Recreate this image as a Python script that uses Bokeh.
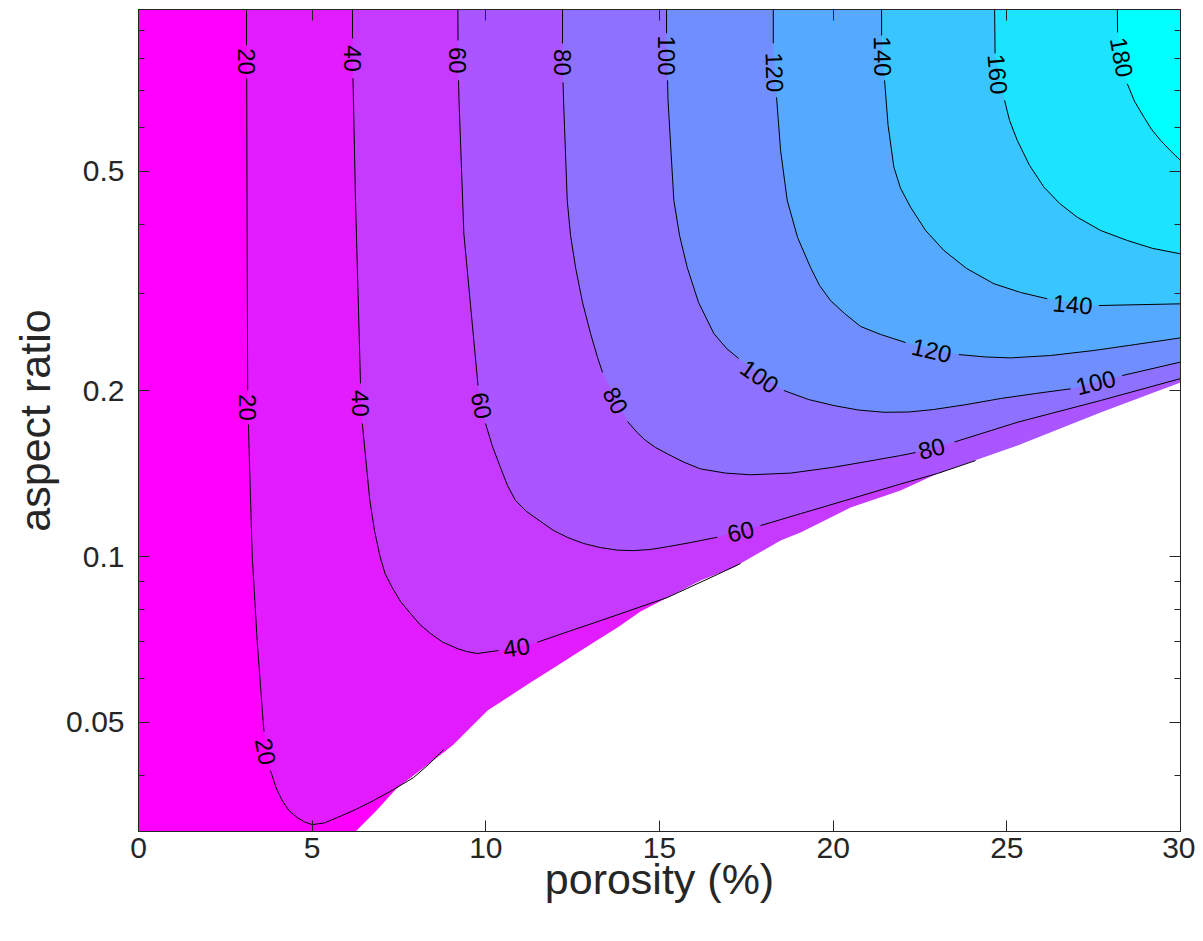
import numpy as np
from bokeh.plotting import figure
from bokeh.models import FixedTicker, CustomJSTickFormatter, LinearAxis, LogAxis
from bokeh.core.properties import value
from bokeh.embed import file_html
from bokeh.resources import INLINE

nan = float("nan")

# ---------------- data ----------------
levels = [20, 40, 60, 80, 100, 120, 140, 160, 180]
band_colors = ["#FF00FF", "#E31CFF", "#C639FF", "#AA55FF", "#8E71FF",
               "#718EFF", "#55AAFF", "#39C6FF", "#1CE3FF", "#00FFFF"]

# contour lines (porosity %, aspect ratio); NaN = gap for the inline label
c20_x = [3.110, 3.110, nan, 3.116, 3.124, 3.144, nan, 3.167, 3.176, 3.274, 3.418, 3.591, 3.614, nan,
         3.801, 3.959, 4.138, 4.333, 4.570, 4.780, 5.001, 5.356, 5.721, 6.248, 6.767, 7.342, 7.918,
         8.350, 8.782]
c20_y = [1.0, 0.8460, nan, 0.7374, 0.4427, 0.2001, nan, 0.1736, 0.1624, 0.1004, 0.07010, 0.04995,
         0.04811, nan, 0.04089, 0.03809, 0.03608, 0.03459, 0.03360, 0.03298, 0.03263, 0.03286,
         0.03360, 0.03474, 0.03608, 0.03777, 0.03971, 0.04193, 0.04464]

c40_x = [6.162, 6.162, nan, 6.176, 6.248, 6.392, nan, 6.444, 6.660, 6.795, 6.948, 7.098, 7.305,
         7.544, 7.832, 8.105, 8.408, 8.753, 9.177, 9.444, 9.752, 10.366, nan, 11.480, 12.381,
         13.303, 15.223, 16.663, 17.334]
c40_y = [1.0, 0.8711, nan, 0.7374, 0.4427, 0.2061, nan, 0.1743, 0.1264, 0.1115, 0.1004, 0.09315,
         0.08784, 0.08287, 0.07879, 0.07526, 0.07249, 0.06995, 0.06809, 0.06725, 0.06668, 0.06752,
         nan, 0.06989, 0.07312, 0.07650, 0.08424, 0.09275, 0.09712]

c60_x = [9.194, 9.200, nan, 9.214, 9.228, 9.367, 9.775, nan, 9.991, 10.193, 10.423, 10.625, 10.855,
         11.172, 11.575, 11.949, 12.352, 12.813, 13.303, 13.792, 14.253, 14.742, 15.232, 15.894,
         16.663, nan, 17.910, 19.061, 20.501, 21.941, 22.997, 24.100]
c60_y = [1.0, 0.8639, nan, 0.7312, 0.6725, 0.3857, 0.2043, nan, 0.1743, 0.1583, 0.1450, 0.1345,
         0.1264, 0.1207, 0.1158, 0.1115, 0.1083, 0.1056, 0.1038, 0.1027, 0.1025, 0.1030, 0.1042,
         0.1060, 0.1084, nan, 0.1138, 0.1196, 0.1272, 0.1354, 0.1414, 0.1493]

c80_x = [12.208, 12.208, nan, 12.223, 12.237, 12.344, 12.439, 12.583, 12.784, 13.015, 13.216,
         13.360, nan, 14.080, 14.339, 14.598, 14.886, 15.223, 15.692, 16.182, 16.902, 17.622,
         18.773, 20.012, 20.962, 21.941, 22.373, nan, 23.496, 25.301, 27.699, 30.0]
c80_y = [1.0, 0.8533, nan, 0.7247, 0.6725, 0.4427, 0.3825, 0.3345, 0.2891, 0.2539, 0.2297,
         0.2158, nan, 0.1758, 0.1683, 0.1624, 0.1577, 0.1536, 0.1484, 0.1442, 0.1417, 0.1407,
         0.1417, 0.1452, 0.1487, 0.1525, 0.1544, nan, 0.1614, 0.1752, 0.1919, 0.2103]

c100_x = [15.203, 15.203, nan, 15.232, 15.246, 15.413, 15.577, 15.799, 16.124, 16.565, 16.931,
          17.276, nan, 18.580, 19.292, 20.020, 20.732, 21.460, 22.171, 22.891, 23.841, 24.820,
          25.828, 26.836, nan, 28.324, 30.0]
c100_y = [1.0, 0.8897, nan, 0.7312, 0.6725, 0.4427, 0.3825, 0.3345, 0.2891, 0.2539, 0.2385,
          0.2288, nan, 0.2001, 0.1927, 0.1879, 0.1844, 0.1827, 0.1829, 0.1848, 0.1887, 0.1935,
          0.1976, 0.2015, nan, 0.2130, 0.2253]

c120_x = [18.275, 18.275, nan, 18.370, 18.486, 18.678, 18.975, 19.349, 19.608, 19.925, 20.328,
          20.789, 21.365, 22.085, nan, 23.619, 24.388, 25.108, 26.260, 27.506, 28.707, 30.0]
c120_y = [1.0, 0.8533, nan, 0.6809, 0.5456, 0.4427, 0.3793, 0.3345, 0.3103, 0.2914, 0.2760,
          0.2615, 0.2529, 0.2445, nan, 0.2325, 0.2302, 0.2293, 0.2316, 0.2365, 0.2425, 0.2493]

c140_x = [21.394, 21.394, nan, 21.480, 21.581, 21.748, 21.941, 22.228, 22.661, 23.187, 23.841,
          24.627, 25.396, 26.165, nan, 27.650, 30.0]
c140_y = [1.0, 0.8821, nan, 0.7312, 0.6057, 0.5087, 0.4655, 0.4305, 0.3905, 0.3592, 0.3332,
          0.3126, 0.3014, 0.2935, nan, 0.2854, 0.2874]

c160_x = [24.647, 24.662, nan, 24.935, 25.079, 25.301, 25.655, 26.067, 26.519, 27.029, 27.699,
          28.468, 29.197, 30.0]
c160_y = [1.0, 0.8182, nan, 0.6725, 0.6185, 0.5689, 0.5124, 0.4681, 0.4372, 0.4127, 0.3905,
          0.3745, 0.3623, 0.3542]

c180_x = [28.180, 28.189, nan, 28.468, 28.678, 28.946, 29.168, 29.427, 29.715, 30.0]
c180_y = [1.0, 0.8933, nan, 0.7208, 0.6696, 0.6272, 0.5957, 0.5689, 0.5445, 0.5232]

# edge of the region without values (white, lower right)
boundary_x = [6.248, 6.853, 7.429, 9.041, 10.049, 11.287, 12.064, 13.101, 13.792, 14.454, 16.182,
              17.132, 18.485, 19.061, 20.501, 21.941, 23.006, 25.309, 27.699, 30.0]
boundary_y = [0.0317, 0.03459, 0.03793, 0.04539, 0.05254, 0.05906, 0.06342, 0.06983, 0.07432, 0.07948,
              0.09046, 0.09550, 0.1069, 0.1105, 0.1227, 0.1318, 0.1414, 0.1590, 0.1826, 0.2069]

# inline contour labels
label_text = ["20", "40", "60", "80", "100", "120", "140", "160", "180",
              "20", "40", "60", "80", "100", "120", "140",
              "100", "80", "60", "40", "20"]
label_x = [3.110, 6.162, 9.185, 12.208, 15.203, 18.313, 21.422, 24.734, 28.304,
           3.139, 6.392, 9.876, 13.735, 17.881, 22.833, 26.893,
           27.556, 22.833, 17.334, 10.884, 3.657]
label_y = [0.791, 0.801, 0.795, 0.788, 0.811, 0.756, 0.808, 0.750, 0.805,
           0.1864, 0.1896, 0.1879, 0.1919, 0.2122, 0.2365, 0.2867,
           0.2069, 0.1570, 0.1110, 0.0684, 0.04426]
label_angle = [-90, -90, -90, -90, -90, -88, -89, -85, -80,
               -90, -88, -80, -62, -35, -13, -5,
               14, 14, 13, 8, -80]

xtick_values = [0, 5, 10, 15, 20, 25, 30]
ytick_values = [0.05, 0.1, 0.2, 0.5]
ytick_labels = ["0.05", "0.1", "0.2", "0.5"]
ytick_minor = [0.04, 0.06, 0.07, 0.08, 0.09, 0.3, 0.4, 0.6, 0.7, 0.8, 0.9]

x_lo, x_hi = 0, 30
y_lo, y_hi = 0.0317, 0.983

contours_x = [c20_x, c40_x, c60_x, c80_x, c100_x, c120_x, c140_x, c160_x, c180_x]
contours_y = [c20_y, c40_y, c60_y, c80_y, c100_y, c120_y, c140_y, c160_y, c180_y]

# ---------------- figure ----------------
W, H = 1195, 933
p = figure(width=W, height=H, x_range=(x_lo, x_hi), y_range=(y_lo, y_hi),
           y_axis_type="log", output_backend="svg", toolbar_location=None,
           min_border_left=138, min_border_right=15, min_border_top=9,
           min_border_bottom=102)
p.background_fill_color = band_colors[0]
p.border_fill_color = "white"
p.outline_line_color = "#262626"
p.outline_line_width = 1
p.grid.visible = False

bottom_axis = p.below[0]
left_axis = p.left[0]

# filled bands: region beyond each contour (towards higher values)
xr_out = x_hi + 1
poly_xs, poly_ys = [], []
for cx, cy in zip(contours_x, contours_y):
    ax = np.array(cx, dtype=float)
    ay = np.array(cy, dtype=float)
    m = ~np.isnan(ax)
    ax, ay = ax[m], ay[m]
    if ax[-1] < x_hi:  # contour ends on the no-data edge
        ey = [y_lo * 0.8, 1.2]
    else:
        ey = [ay[-1], 1.2]
    poly_xs.append(list(ax) + [xr_out, xr_out] + [ax[0]])
    poly_ys.append(list(ay) + ey + [1.2])
p.patches(poly_xs, poly_ys, fill_color=band_colors[1:], line_color=None)

# white no-data region
wx = list(boundary_x) + [xr_out, xr_out, boundary_x[0]]
wy = list(boundary_y) + [boundary_y[-1] * 1.15, y_lo * 0.8, y_lo * 0.8]
p.patch(wx, wy, fill_color="white", line_color=None)

# contour lines
for cx, cy in zip(contours_x, contours_y):
    p.line(cx, cy, line_color="black", line_width=1)

# contour labels
p.text(x=label_x, y=label_y, text=label_text, angle=label_angle, angle_units="deg",
       text_align="center", text_baseline="middle",
       text_font=value("Liberation Sans"), text_font_size="24px", text_color="black")

# axes (box with inward ticks on all four sides)
top_axis = LinearAxis(ticker=FixedTicker(ticks=xtick_values, minor_ticks=[]),
                      formatter=CustomJSTickFormatter(code="return '';"),
                      major_label_text_font_size="0px", major_label_standoff=0)
right_axis = LogAxis(ticker=FixedTicker(ticks=ytick_values, minor_ticks=ytick_minor),
                     formatter=CustomJSTickFormatter(code="return '';"),
                     major_label_text_font_size="0px", major_label_standoff=0)
p.add_layout(top_axis, "above")
p.add_layout(right_axis, "right")

bottom_axis.ticker = FixedTicker(ticks=xtick_values, minor_ticks=[])
left_axis.ticker = FixedTicker(ticks=ytick_values, minor_ticks=ytick_minor)
left_axis.formatter = CustomJSTickFormatter(
    args=dict(vals=ytick_values, labs=ytick_labels),
    code="const i = vals.indexOf(tick); return i >= 0 ? labs[i] : String(tick);")

for ax in (bottom_axis, left_axis, top_axis, right_axis):
    ax.major_tick_in = 11
    ax.major_tick_out = 0
    ax.minor_tick_in = 6
    ax.minor_tick_out = 0
    ax.axis_line_color = "#262626"
    ax.major_tick_line_color = "#262626"
    ax.minor_tick_line_color = "#262626"

for ax in (bottom_axis, left_axis):
    ax.major_label_text_font = "Liberation Sans"
    ax.major_label_text_font_size = "30px"
    ax.major_label_text_color = "#262626"
    ax.axis_label_text_font = "Liberation Sans"
    ax.axis_label_text_font_size = "43px"
    ax.axis_label_text_font_style = "normal"
    ax.axis_label_text_color = "#262626"

bottom_axis.axis_label = "porosity (%)"
left_axis.axis_label = "aspect ratio"
bottom_axis.major_label_standoff = 6
bottom_axis.axis_label_standoff = -6
left_axis.major_label_standoff = 14
left_axis.axis_label_standoff = 4

open("out.html", "w").write(file_html(p, INLINE))
